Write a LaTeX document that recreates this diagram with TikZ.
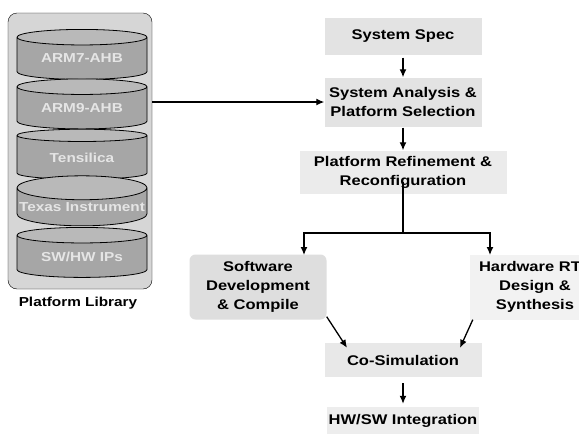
\documentclass[tikz,border=0pt]{standalone}
\usepackage{fontspec}
\setmainfont{Liberation Sans}[FakeStretch=1.18]
\usetikzlibrary{arrows.meta,shapes.geometric}

\tikzset{
  stage/.style={fill=gray!22, align=center, font=\fontsize{14}{19}\selectfont\bfseries, inner sep=2pt},
  libdisk/.style={cylinder, shape border rotate=90, draw=black, thick, aspect=0.19,
    minimum width=130pt, minimum height=50pt, cylinder uses custom fill,
    cylinder body fill=gray!70, cylinder end fill=gray!55, text=gray!20,
    font=\fontsize{13}{16}\selectfont\bfseries, inner sep=0pt},
  flow/.style={-{Latex[length=8pt,width=7pt]}, line width=1.3pt},
  link/.style={line width=1.3pt}
}

\begin{document}
\begin{tikzpicture}[x=1pt,y=-1pt]
  \clip (0,0) rectangle (579,434);
  \fill[white] (0,0) rectangle (579,434);
  % Platform library
  \node[draw=black, fill=gray!32, rounded corners=9pt, minimum width=144pt, minimum height=276pt] (lib) at (80,151) {};
  \foreach \name/\txt [count=\i from 0] in {arm7/{ARM7-AHB}, arm9/{ARM9-AHB}, tensilica/{Tensilica}, texas/{Texas Instrument}, ips/{SW/HW IPs}}
    \node[libdisk] (\name) at (82,58.5+49.5*\i) {\raisebox{-3pt}{\txt}};
  \node[font=\fontsize{13}{16}\selectfont\bfseries] (libname) at (78,303) {Platform Library};
  % Design flow
  \node[stage, minimum width=157pt, minimum height=37pt] (spec) at (403,36) {System Spec};
  \node[stage, minimum width=157pt, minimum height=49pt] (analysis) at (403,102) {System Analysis \&\\Platform Selection};
  \node[stage, fill=gray!16, minimum width=207pt, minimum height=43pt] (refine) at (403,172) {Platform Refinement \&\\Reconfiguration};
  \node[stage, fill=gray!26, rounded corners=6pt, minimum width=137pt, minimum height=65pt] (sw) at (258,287) {Software\\Development\\\& Compile};
  \node[stage, fill=gray!10, minimum width=130pt, minimum height=65pt] (hw) at (535,287) {Hardware RTL\\Design \&\\Synthesis};
  \node[stage, fill=gray!18, minimum width=157pt, minimum height=34pt] (cosim) at (403,360) {Co-Simulation};
  \node[stage, fill=gray!14, minimum width=151pt, minimum height=28pt] (hwsw) at (403,421) {HW/SW Integration};
  % Connectors
  \draw[flow] (analysis.west -| lib.east) -- (analysis.west);
  \draw[flow, shorten <=3pt] (spec) -- (analysis);
  \draw[flow, shorten <=1pt] (analysis) -- (refine);
  \coordinate (split) at (403,233);
  \coordinate (swin) at (304,255);
  \coordinate (hwin) at (490,255);
  \draw[link] ([yshift=12pt]refine.south) -- (split);
  \draw[flow] (split) -| (swin);
  \draw[flow] (split) -| (hwin);
  \draw[flow] ([shift={(0,-3)}]sw.south east) -- ([shift={(-56,5)}]cosim.north);
  \draw[flow] ([shift={(3,0)}]hw.south west) -- ([shift={(57,5)}]cosim.north);
  \draw[flow, shorten <=6pt, shorten >=3pt] (cosim) -- (hwsw);
\end{tikzpicture}
\end{document}
